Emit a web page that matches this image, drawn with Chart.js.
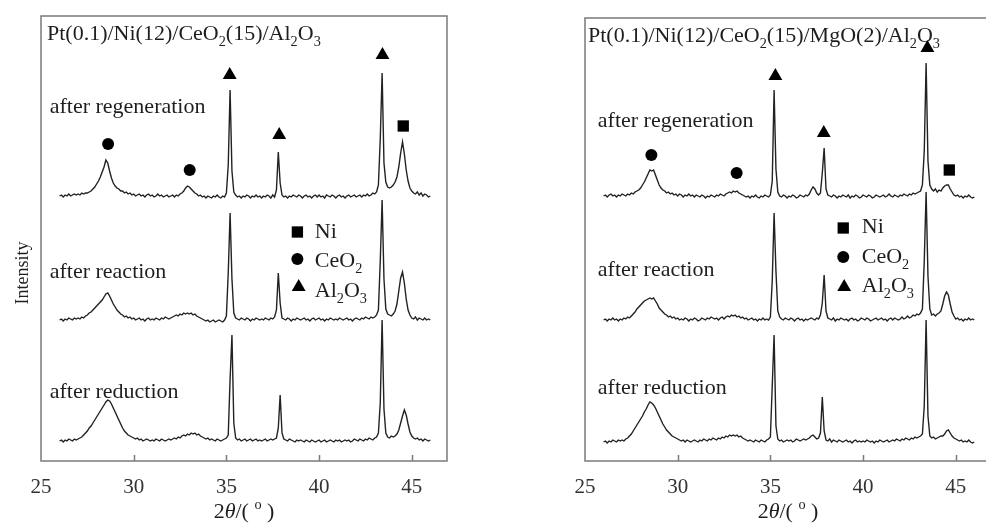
<!DOCTYPE html>
<html lang="en">
<head>
<meta charset="UTF-8" />
<title>XRD patterns</title>
<script src="https://cdn.jsdelivr.net/npm/chart.js"></script>
<style>
  html, body { margin: 0; padding: 0; background: #fff; overflow: hidden; }
  body { width: 986px; height: 523px; position: relative; }
  canvas { position: absolute; top: 0; }
  #left { left: 0; }
  #right { left: 530px; }
</style>
</head>
<body>
<canvas id="left" width="470" height="523"></canvas>
<canvas id="right" width="480" height="523"></canvas>
<script>
// 2theta grid (degrees), one reading every 0.1
const twoTheta = [
  26.0,26.1,26.2,26.3,26.4,26.5,26.6,26.7,26.8,26.9,
  27.0,27.1,27.2,27.3,27.4,27.5,27.6,27.7,27.8,27.9,
  28.0,28.1,28.2,28.3,28.4,28.5,28.6,28.7,28.8,28.9,
  29.0,29.1,29.2,29.3,29.4,29.5,29.6,29.7,29.8,29.9,
  30.0,30.1,30.2,30.3,30.4,30.5,30.6,30.7,30.8,30.9,
  31.0,31.1,31.2,31.3,31.4,31.5,31.6,31.7,31.8,31.9,
  32.0,32.1,32.2,32.3,32.4,32.5,32.6,32.7,32.8,32.9,
  33.0,33.1,33.2,33.3,33.4,33.5,33.6,33.7,33.8,33.9,
  34.0,34.1,34.2,34.3,34.4,34.5,34.6,34.7,34.8,34.9,
  35.0,35.1,35.2,35.3,35.4,35.5,35.6,35.7,35.8,35.9,
  36.0,36.1,36.2,36.3,36.4,36.5,36.6,36.7,36.8,36.9,
  37.0,37.1,37.2,37.3,37.4,37.5,37.6,37.7,37.8,37.9,
  38.0,38.1,38.2,38.3,38.4,38.5,38.6,38.7,38.8,38.9,
  39.0,39.1,39.2,39.3,39.4,39.5,39.6,39.7,39.8,39.9,
  40.0,40.1,40.2,40.3,40.4,40.5,40.6,40.7,40.8,40.9,
  41.0,41.1,41.2,41.3,41.4,41.5,41.6,41.7,41.8,41.9,
  42.0,42.1,42.2,42.3,42.4,42.5,42.6,42.7,42.8,42.9,
  43.0,43.1,43.2,43.3,43.4,43.5,43.6,43.7,43.8,43.9,
  44.0,44.1,44.2,44.3,44.4,44.5,44.6,44.7,44.8,44.9,
  45.0,45.1,45.2,45.3,45.4,45.5,45.6,45.7,45.8,45.9,
  46.0
];

// Pt(0.1)/Ni(12)/CeO2(15)/Al2O3 (curves stacked, arbitrary units)
const leftRegeneration = [
  265,266,264,266,265,267,265,266,267,266,
  267,266,268,267,268,268,269,270,272,274,
  277,280,284,289,294,301,298,290,283,278,
  275,273,272,270,270,268,269,267,268,266,
  267,265,266,267,265,266,264,266,267,265,
  266,264,265,267,265,266,264,265,266,264,
  265,266,264,266,265,267,268,270,273,275,
  274,272,270,268,267,265,266,264,265,263,
  265,264,263,265,264,266,264,263,265,264,
  268,296,371,290,269,266,264,265,263,265,
  264,266,265,263,265,264,266,264,265,263,
  265,264,266,265,263,266,264,271,309,278,
  266,264,265,263,265,264,266,265,264,266,
  265,263,265,266,264,265,263,265,266,264,
  266,264,265,263,266,265,264,266,265,263,
  265,266,264,265,263,265,266,264,265,266,
  264,265,266,264,266,265,267,265,266,268,
  267,269,276,322,388,298,279,274,273,274,
  276,279,284,294,308,319,307,291,280,273,
  270,268,267,269,266,268,265,267,266,264,
  265
];
const leftReaction = [
  141,142,140,142,141,143,142,141,143,142,
  143,142,144,143,145,146,148,149,151,153,
  155,157,159,161,164,167,168,165,161,157,
  154,151,149,147,146,144,145,143,144,142,
  143,141,142,143,141,142,140,142,143,141,
  142,141,143,142,141,143,142,144,143,142,
  143,144,145,146,145,147,146,148,147,148,
  147,148,146,147,145,144,143,142,141,140,
  141,139,140,141,139,140,141,140,139,141,
  145,188,248,182,148,143,142,141,143,142,
  141,143,142,140,142,141,143,142,141,142,
  141,143,142,141,143,142,144,151,188,158,
  143,142,141,143,142,140,142,141,143,142,
  141,142,143,141,142,140,142,143,141,142,
  143,141,142,140,142,141,143,142,141,142,
  141,143,142,141,142,143,141,142,140,142,
  143,142,141,143,142,144,143,142,144,143,
  144,146,151,200,261,182,152,147,146,145,
  147,150,157,170,183,189,178,162,151,146,
  143,142,144,141,143,142,141,143,141,142,
  141
];
const leftReduction = [
  20,21,19,21,20,22,21,20,22,21,
  22,23,24,26,28,30,33,35,38,41,
  44,47,50,53,56,59,61,60,57,53,
  49,45,41,37,33,30,28,26,25,24,
  23,22,23,21,22,20,21,22,21,20,
  21,20,22,21,20,22,21,20,21,22,
  21,22,23,22,24,23,25,26,25,27,
  26,28,27,28,26,27,25,24,23,22,
  23,21,22,21,20,22,21,20,21,22,
  23,26,82,126,38,23,21,22,20,21,
  22,20,21,22,20,21,22,20,21,20,
  21,22,20,21,22,21,22,23,33,66,
  28,22,21,20,22,21,20,19,21,20,
  21,20,19,21,20,19,21,20,19,20,
  21,19,20,21,19,20,21,20,19,21,
  20,21,19,20,21,20,21,19,20,22,
  21,20,22,21,20,22,21,23,22,21,
  23,24,28,58,141,52,28,24,23,25,
  24,25,27,31,38,45,51,46,37,29,
  25,23,22,23,21,22,20,22,21,20,
  21
];

// Pt(0.1)/Ni(12)/CeO2(15)/MgO(2)/Al2O3
const rightRegeneration = [
  265,266,264,266,267,265,266,264,266,265,
  267,266,265,267,266,268,267,269,270,271,
  273,276,279,283,287,291,290,291,286,281,
  276,273,271,270,268,269,267,268,266,267,
  265,267,266,264,266,265,267,265,266,264,
  266,265,264,266,265,263,265,264,266,265,
  264,266,265,267,266,265,267,268,269,268,
  270,269,270,268,267,266,265,264,265,263,
  265,264,266,264,263,265,264,266,265,264,
  266,280,371,292,269,265,264,266,265,263,
  265,264,266,265,263,264,266,265,264,266,
  265,267,271,274,272,268,266,268,288,313,
  272,266,265,264,266,265,263,265,264,266,
  265,264,266,263,265,264,266,265,263,264,
  266,265,264,266,265,263,264,266,265,264,
  265,266,264,265,267,265,264,266,265,264,
  266,265,267,266,265,267,266,268,267,268,
  269,270,276,310,398,300,276,272,270,272,
  269,271,270,273,275,276,276,272,269,266,
  265,266,264,265,263,265,264,266,264,263,
  264
];
const rightReaction = [
  141,142,140,142,141,143,141,142,140,142,
  141,143,142,144,143,145,147,149,152,154,
  156,158,160,161,162,163,162,163,160,157,
  153,151,149,147,146,144,145,143,144,142,
  143,141,142,141,143,142,140,142,141,143,
  142,140,141,143,142,141,143,142,144,143,
  142,143,141,143,144,142,144,145,144,146,
  145,146,144,145,143,144,142,143,141,142,
  143,141,142,140,142,141,143,141,142,141,
  144,180,248,190,150,144,142,141,143,142,
  141,143,142,140,142,143,141,142,140,142,
  141,142,143,142,141,143,142,146,158,186,
  150,143,142,141,143,140,142,141,143,142,
  141,142,140,142,143,141,142,140,141,143,
  142,141,143,142,140,141,142,143,141,142,
  143,141,142,140,142,143,141,143,142,141,
  142,144,142,143,145,143,144,146,145,147,
  146,148,152,200,269,185,152,146,147,145,
  147,148,150,157,165,169,166,157,149,145,
  142,143,141,142,140,142,141,143,141,142,
  141
];
const rightReduction = [
  19,20,18,20,19,21,20,19,21,20,
  21,20,22,23,25,27,30,33,36,39,
  42,45,49,52,56,59,58,56,53,49,
  45,41,37,34,31,29,27,25,24,23,
  22,21,20,21,19,21,20,19,20,21,
  20,19,21,20,22,21,20,22,21,23,
  22,21,23,22,24,23,25,24,26,25,
  26,25,26,24,25,23,22,21,20,21,
  20,19,21,20,19,21,20,19,21,22,
  24,75,126,35,22,20,21,19,20,21,
  20,21,19,20,22,21,20,21,22,21,
  22,23,25,26,24,22,23,28,64,30,
  21,20,22,19,21,20,19,21,20,19,
  20,21,19,20,18,20,21,19,20,19,
  20,19,21,20,19,20,18,20,19,21,
  20,19,20,21,19,20,21,20,22,21,
  20,22,21,23,22,21,23,22,24,23,
  24,25,27,55,141,45,25,23,24,22,
  23,24,25,25,27,30,31,28,25,23,
  22,21,20,21,19,20,19,21,19,18,
  19
];

// phase markers above the peaks [2theta, height]
const leftNi = [[44.54, 335]];
const leftCeO2 = [[28.62, 317], [33.02, 291]];
const leftAl2O3 = [[35.18, 386], [37.85, 326], [43.42, 406]];
const rightNi = [[44.65, 291]];
const rightCeO2 = [[28.58, 306], [33.18, 288]];
const rightAl2O3 = [[35.27, 385], [37.88, 328], [43.47, 413]];

const xTicks = [25, 30, 35, 40, 45];
const sampleNames = ['after regeneration', 'after reaction', 'after reduction'];

const FONT = "'Liberation Serif', 'Times New Roman', serif";

function drawRich(ctx, parts, x, y, size, align) {
  const sizes = parts.map(p => (p[1] === 'sub' || p[1] === 'sup') ? size * 0.65 : size);
  const widths = parts.map((p, i) => {
    ctx.font = (p[1] === 'it' ? 'italic ' : '') + sizes[i] + 'px ' + FONT;
    return ctx.measureText(p[0]).width;
  });
  const total = widths.reduce((a, b) => a + b, 0);
  let cx = align === 'center' ? x - total / 2 : x;
  ctx.textAlign = 'left';
  parts.forEach((p, i) => {
    ctx.font = (p[1] === 'it' ? 'italic ' : '') + sizes[i] + 'px ' + FONT;
    const dy = p[1] === 'sub' ? size * 0.26 : p[1] === 'sup' ? -size * 0.42 : 0;
    ctx.fillText(p[0], cx, y + dy);
    cx += widths[i];
  });
}

const decor = {
  id: 'decor',
  afterDraw(chart, args, o) {
    const { ctx, chartArea: a, scales: { x, y } } = chart;
    ctx.save();
    // frame
    ctx.strokeStyle = '#7a7a7a';
    ctx.lineWidth = 1.5;
    ctx.strokeRect(a.left, a.top, a.right - a.left, a.bottom - a.top);
    // inward tick marks
    ctx.beginPath();
    xTicks.slice(1).forEach(v => {
      const px = Math.round(x.getPixelForValue(v)) + 0.5;
      ctx.moveTo(px, a.bottom);
      ctx.lineTo(px, a.bottom - 6);
    });
    ctx.stroke();

    ctx.fillStyle = '#1e1e1e';
    ctx.textBaseline = 'alphabetic';
    drawRich(ctx, o.title, a.left + o.titleDx, o.titleY, 22, 'left');

    o.labels.forEach((l, i) => {
      drawRich(ctx, [[sampleNames[i], '']], x.getPixelForValue(l[0]), y.getPixelForValue(l[1]), 22, 'left');
    });

    const legendText = [[['Ni', '']], [['CeO', ''], ['2', 'sub']], [['Al', ''], ['2', 'sub'], ['O', ''], ['3', 'sub']]];
    o.legend.forEach((l, i) => {
      drawRich(ctx, legendText[i], x.getPixelForValue(l[0]), y.getPixelForValue(l[1]), 22, 'left');
    });

    // x axis title 2θ/(°)
    drawRich(ctx, [['2', ''], ['\u03B8', 'it'], ['/( ', ''], ['o', 'sup'], [' )', '']],
      (a.left + a.right) / 2, 518, 22, 'center');

    // y axis title
    ctx.translate(o.yTitle[0], o.yTitle[1]);
    ctx.rotate(-Math.PI / 2);
    ctx.font = '18px ' + FONT;
    ctx.textAlign = 'center';
    ctx.fillText('Intensity', 0, 0);
    ctx.restore();
  }
};

function pts(arr) {
  return arr.map(p => ({ x: p[0], y: p[1] }));
}

function makeChart(id, cfg) {
  const curve = ys => ({
    data: twoTheta.map((t, i) => ({ x: t, y: ys[i] })),
    borderColor: '#222',
    borderWidth: 1.4,
    pointRadius: 0,
    tension: 0,
    fill: false
  });
  const marker = (data, style, r) => ({
    data: pts(data),
    showLine: false,
    pointStyle: style,
    pointRadius: r,
    pointBackgroundColor: '#000',
    pointBorderColor: '#000',
    pointBorderWidth: 0,
    clip: false
  });
  return new Chart(document.getElementById(id), {
    type: 'line',
    data: {
      datasets: [
        curve(cfg.series[0]), curve(cfg.series[1]), curve(cfg.series[2]),
        marker(cfg.ni, 'rect', 8),
        marker(cfg.ceo2, 'circle', 6),
        marker(cfg.al2o3, 'triangle', 8),
        marker([cfg.legend[0]], 'rect', 8),
        marker([cfg.legend[1]], 'circle', 6),
        marker([cfg.legend[2]], 'triangle', 8)
      ]
    },
    options: {
      responsive: false,
      animation: false,
      layout: { padding: { left: cfg.padLeft, right: cfg.padRight, top: cfg.padTop, bottom: 0 } },
      plugins: {
        legend: { display: false },
        tooltip: { enabled: false },
        decor: {
          title: cfg.title,
          titleDx: cfg.titleDx,
          titleY: cfg.titleY,
          labels: cfg.labels,
          legend: cfg.legendText,
          yTitle: cfg.yTitle
        }
      },
      scales: {
        x: {
          type: 'linear',
          min: 25,
          max: 46.9,
          afterFit: s => { s.height = 62; },
          afterBuildTicks: s => { s.ticks = xTicks.map(v => ({ value: v })); },
          grid: { display: false, drawTicks: false },
          border: { display: false },
          ticks: {
            padding: 14,
            color: '#333',
            font: { family: FONT, size: 21 },
            maxRotation: 0
          }
        },
        y: {
          display: false,
          min: 0,
          max: cfg.yMax
        }
      }
    },
    plugins: [decor]
  });
}

makeChart('left', {
  series: [leftRegeneration, leftReaction, leftReduction],
  ni: leftNi, ceo2: leftCeO2, al2o3: leftAl2O3,
  legend: [[38.83, 229], [38.83, 202], [38.9, 174]],
  legendText: [[39.77, 223], [39.77, 194], [39.77, 164]],
  labels: [[25.47, 348], [25.47, 183], [25.47, 63]],
  title: [['Pt(0.1)/Ni(12)/CeO', ''], ['2', 'sub'], ['(15)/Al', ''], ['2', 'sub'], ['O', ''], ['3', 'sub']],
  titleDx: 6, titleY: 40,
  yTitle: [28, 273],
  padLeft: 41, padRight: 23, padTop: 16, yMax: 445
});

makeChart('right', {
  series: [rightRegeneration, rightReaction, rightReduction],
  ni: rightNi, ceo2: rightCeO2, al2o3: rightAl2O3,
  legend: [[38.93, 233], [38.93, 204], [38.98, 174]],
  legendText: [[39.93, 228], [39.93, 198], [39.93, 169]],
  labels: [[25.69, 334], [25.69, 185], [25.69, 67]],
  title: [['Pt(0.1)/Ni(12)/CeO', ''], ['2', 'sub'], ['(15)/MgO(2)/Al', ''], ['2', 'sub'], ['O', ''], ['3', 'sub']],
  titleDx: 3, titleY: 42,
  yTitle: [564, 268],
  padLeft: 55, padRight: 19, padTop: 18, yMax: 443
});
</script>
</body>
</html>
